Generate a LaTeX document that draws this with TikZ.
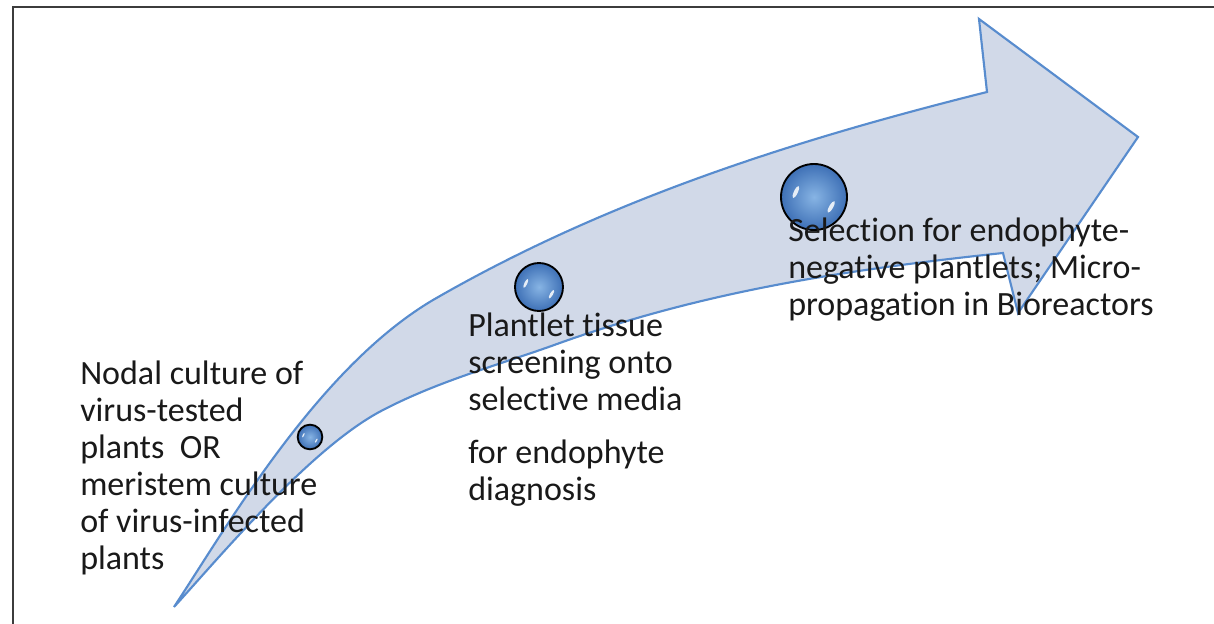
\documentclass[tikz,border=0pt]{standalone}
\usepackage{fontspec}
\setmainfont{Carlito}[RawFeature={-liga;-clig;-calt;-dlig}]
\usepackage{xcolor}
\usepackage{tikz}

\definecolor{arrowfill}{RGB}{209,217,232}
\definecolor{arrowline}{RGB}{88,140,206}
\definecolor{bubblein}{RGB}{135,180,228}
\definecolor{bubbleout}{RGB}{62,112,182}
\definecolor{framegray}{RGB}{60,60,60}
\definecolor{inkblack}{RGB}{25,25,25}

\tikzset{
  bubble/.style={circle, draw=black, line width=1.4, inner sep=0pt,
    minimum size=#1, shading=radial, inner color=bubblein, outer color=bubbleout},
  gloss/.style={white, opacity=0.85},
  steptext/.style={anchor=north west, align=left, inner sep=0pt,
    text=inkblack, font=\fontsize{25.5}{27.75}\selectfont}
}

\begin{document}
\begin{tikzpicture}[x=0.75pt,y=0.75pt,yscale=-1,xscale=1]
\useasboundingbox (0,0) rectangle (1214,624);

%Frame lines
\draw [color=framegray, line width=1.1] (13,624) -- (13,7) -- (1214,7) ;

%Shape: Curved Arrow
\draw [color=arrowline, fill=arrowfill, line width=1.6, line join=miter]
  (174,607) .. controls (228,525) and (318,368) .. (433,300)
  .. controls (613,196) and (807,137) .. (987,92)
  -- (979,19) -- (1138,137) -- (1018,313) -- (1003,253)
  .. controls (853,269) and (707,290) .. (557,344)
  .. controls (499,365) and (441,380) .. (383,410)
  .. controls (313,446) and (224,552) .. (174,607) -- cycle ;

%Shape: Bubbles
\node [bubble=18.5pt] (bub1) at (310,437) {};
\node [bubble=36pt] (bub2) at (539,287) {};
\node [bubble=49.5pt] (bub3) at (814,197) {};

%Bubble highlights
\foreach \cx/\cy/\rad in {310/437/12, 539/287/24, 814/197/33}{
  \fill [gloss, rotate around={-65:(\cx-0.55*\rad,\cy-0.15*\rad)}] (\cx-0.55*\rad,\cy-0.15*\rad) ellipse [x radius=0.2*\rad, y radius=0.06*\rad];
  \fill [gloss, rotate around={-60:(\cx+0.52*\rad,\cy+0.3*\rad)}] (\cx+0.52*\rad,\cy+0.3*\rad) ellipse [x radius=0.2*\rad, y radius=0.06*\rad];
}

% Text Node
\node [steptext] (nodal) at (80,361) {Nodal culture of\\virus-tested\\plants\ \ OR\\meristem culture\\of virus-infected\\plants};
% Text Node
\node [steptext] (screen) at (468,313) {Plantlet tissue\\screening onto\\selective media\\[12pt]for endophyte\\diagnosis};
% Text Node
\node [steptext] (select) at (788,218) {Selection for endophyte-\\negative plantlets; Micro-\\propagation in Bioreactors};

\end{tikzpicture}
\end{document}
